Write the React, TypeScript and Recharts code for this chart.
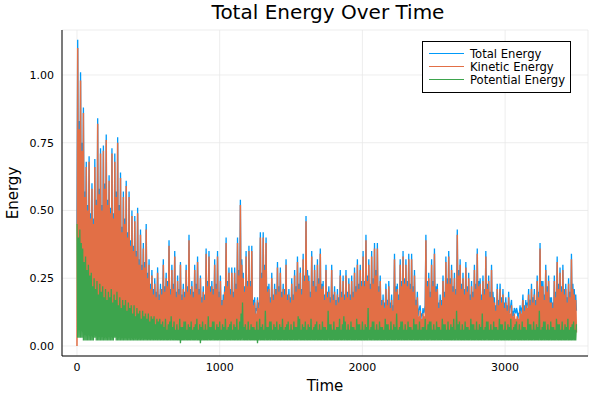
import React from 'react';
import { LineChart, Line, XAxis, YAxis, CartesianGrid } from 'recharts';

// sampling step of the simulation (time units between samples)
const DT = 5;

const TITLE = 'Total Energy Over Time';
const X_LABEL = 'Time';
const Y_LABEL = 'Energy';
const SERIES_NAMES = ['Total Energy', 'Kinetic Energy', 'Potential Energy'];
const SERIES_KEYS = ['total', 'kinetic', 'potential'];
const COLORS = ['#009af9', '#e26f46', '#3da44d'];
const WIDTHS = [1.3, 1.5, 1.3];
const X_TICKS = [0, 1000, 2000, 3000];
const Y_TICKS = [0, 0.25, 0.5, 0.75, 1];

// one row = 100 time units
const kinetic = [
  0.00, 1.10, 0.09, 0.80, 0.08, 0.98, 0.10, 0.72, 0.10, 0.86, 0.09, 0.55, 0.09, 0.66, 0.08, 0.50, 0.07, 0.68, 0.08, 0.47,
  0.09, 0.58, 0.07, 0.45, 0.06, 0.66, 0.07, 0.52, 0.07, 0.82, 0.06, 0.56, 0.08, 0.71, 0.07, 0.50, 0.06, 0.72, 0.07, 0.58,
  0.07, 0.76, 0.08, 0.52, 0.08, 0.61, 0.06, 0.49, 0.06, 0.71, 0.07, 0.47, 0.07, 0.68, 0.08, 0.55, 0.08, 0.75, 0.06, 0.50,
  0.06, 0.62, 0.07, 0.42, 0.07, 0.55, 0.06, 0.45, 0.06, 0.59, 0.05, 0.40, 0.05, 0.55, 0.06, 0.37, 0.06, 0.48, 0.05, 0.35,
  0.05, 0.46, 0.06, 0.33, 0.06, 0.49, 0.05, 0.30, 0.05, 0.41, 0.06, 0.28, 0.06, 0.36, 0.05, 0.29, 0.05, 0.43, 0.06, 0.25,
  0.06, 0.30, 0.05, 0.21, 0.05, 0.26, 0.04, 0.19, 0.04, 0.23, 0.05, 0.18, 0.05, 0.27, 0.04, 0.17, 0.04, 0.21, 0.05, 0.19,
  0.05, 0.30, 0.04, 0.20, 0.04, 0.25, 0.05, 0.22, 0.05, 0.37, 0.04, 0.19, 0.04, 0.28, 0.05, 0.21, 0.05, 0.33, 0.04, 0.18,
  0.04, 0.24, 0.05, 0.19, 0.05, 0.30, 0.04, 0.17, 0.04, 0.21, 0.05, 0.18, 0.05, 0.28, 0.04, 0.20, 0.04, 0.39, 0.05, 0.19,
  0.05, 0.22, 0.04, 0.18, 0.04, 0.28, 0.05, 0.21, 0.05, 0.31, 0.04, 0.19, 0.04, 0.25, 0.05, 0.16, 0.05, 0.20, 0.04, 0.17,
  0.04, 0.34, 0.05, 0.22, 0.05, 0.33, 0.04, 0.20, 0.04, 0.22, 0.05, 0.19, 0.05, 0.30, 0.04, 0.21, 0.04, 0.33, 0.05, 0.18,
  0.05, 0.24, 0.04, 0.15, 0.04, 0.17, 0.05, 0.20, 0.05, 0.38, 0.04, 0.22, 0.04, 0.27, 0.05, 0.19, 0.05, 0.27, 0.04, 0.18,
  0.04, 0.27, 0.05, 0.21, 0.05, 0.38, 0.04, 0.26, 0.04, 0.52, 0.05, 0.30, 0.05, 0.25, 0.04, 0.20, 0.04, 0.33, 0.05, 0.22,
  0.05, 0.35, 0.04, 0.22, 0.04, 0.35, 0.05, 0.15, 0.05, 0.16, 0.04, 0.12, 0.04, 0.17, 0.05, 0.14, 0.05, 0.40, 0.04, 0.25,
  0.05, 0.40, 0.04, 0.28, 0.04, 0.38, 0.05, 0.20, 0.05, 0.21, 0.04, 0.16, 0.04, 0.25, 0.05, 0.17, 0.05, 0.21, 0.04, 0.19,
  0.04, 0.29, 0.05, 0.20, 0.05, 0.27, 0.04, 0.18, 0.04, 0.21, 0.05, 0.19, 0.05, 0.30, 0.04, 0.17, 0.04, 0.19, 0.05, 0.16,
  0.05, 0.23, 0.04, 0.17, 0.04, 0.26, 0.05, 0.20, 0.05, 0.31, 0.04, 0.21, 0.04, 0.27, 0.05, 0.19, 0.05, 0.32, 0.04, 0.24,
  0.04, 0.46, 0.05, 0.26, 0.05, 0.24, 0.04, 0.18, 0.04, 0.33, 0.05, 0.22, 0.05, 0.28, 0.04, 0.20, 0.04, 0.30, 0.05, 0.23,
  0.05, 0.34, 0.04, 0.21, 0.04, 0.22, 0.05, 0.17, 0.05, 0.28, 0.04, 0.18, 0.04, 0.20, 0.05, 0.16, 0.05, 0.28, 0.04, 0.17,
  0.04, 0.20, 0.05, 0.15, 0.05, 0.19, 0.04, 0.16, 0.04, 0.26, 0.05, 0.18, 0.05, 0.24, 0.04, 0.17, 0.04, 0.26, 0.05, 0.18,
  0.05, 0.23, 0.04, 0.17, 0.04, 0.24, 0.05, 0.18, 0.05, 0.27, 0.04, 0.20, 0.04, 0.30, 0.05, 0.21, 0.05, 0.28, 0.04, 0.22,
  0.05, 0.33, 0.04, 0.22, 0.04, 0.39, 0.05, 0.24, 0.05, 0.30, 0.04, 0.21, 0.04, 0.33, 0.05, 0.23, 0.05, 0.36, 0.04, 0.26,
  0.04, 0.36, 0.05, 0.20, 0.05, 0.24, 0.04, 0.15, 0.04, 0.17, 0.05, 0.14, 0.05, 0.21, 0.04, 0.15, 0.04, 0.22, 0.05, 0.14,
  0.05, 0.17, 0.04, 0.13, 0.04, 0.32, 0.05, 0.20, 0.05, 0.21, 0.04, 0.17, 0.04, 0.30, 0.05, 0.22, 0.05, 0.33, 0.04, 0.23,
  0.04, 0.30, 0.05, 0.22, 0.05, 0.32, 0.04, 0.21, 0.04, 0.32, 0.05, 0.20, 0.05, 0.26, 0.04, 0.15, 0.04, 0.18, 0.05, 0.11,
  0.05, 0.13, 0.04, 0.10, 0.04, 0.12, 0.05, 0.11, 0.05, 0.39, 0.04, 0.22, 0.04, 0.25, 0.05, 0.18, 0.05, 0.30, 0.04, 0.22,
  0.04, 0.34, 0.05, 0.20, 0.05, 0.21, 0.04, 0.14, 0.04, 0.17, 0.05, 0.15, 0.05, 0.24, 0.04, 0.18, 0.04, 0.31, 0.05, 0.23,
  0.05, 0.33, 0.04, 0.23, 0.04, 0.28, 0.05, 0.20, 0.05, 0.25, 0.04, 0.19, 0.04, 0.41, 0.05, 0.26, 0.05, 0.30, 0.04, 0.21,
  0.04, 0.25, 0.05, 0.19, 0.05, 0.29, 0.04, 0.20, 0.04, 0.25, 0.05, 0.17, 0.05, 0.22, 0.04, 0.18, 0.04, 0.28, 0.05, 0.21,
  0.05, 0.34, 0.04, 0.22, 0.04, 0.23, 0.05, 0.17, 0.05, 0.24, 0.04, 0.19, 0.04, 0.33, 0.05, 0.21, 0.05, 0.24, 0.04, 0.18,
  0.04, 0.28, 0.05, 0.18, 0.05, 0.16, 0.04, 0.13, 0.04, 0.21, 0.05, 0.15, 0.05, 0.21, 0.04, 0.16, 0.04, 0.19, 0.05, 0.14,
  0.05, 0.16, 0.04, 0.13, 0.04, 0.18, 0.05, 0.12, 0.05, 0.15, 0.04, 0.11, 0.04, 0.12, 0.05, 0.10, 0.05, 0.11, 0.04, 0.10,
  0.04, 0.13, 0.05, 0.12, 0.05, 0.17, 0.04, 0.13, 0.04, 0.15, 0.05, 0.14, 0.05, 0.19, 0.04, 0.15, 0.04, 0.21, 0.05, 0.16,
  0.05, 0.19, 0.04, 0.15, 0.04, 0.24, 0.05, 0.18, 0.05, 0.36, 0.04, 0.22, 0.04, 0.22, 0.05, 0.17, 0.05, 0.28, 0.04, 0.20,
  0.04, 0.24, 0.05, 0.16, 0.05, 0.16, 0.04, 0.14, 0.04, 0.24, 0.05, 0.18, 0.05, 0.31, 0.04, 0.21, 0.04, 0.27, 0.05, 0.20,
  0.05, 0.28, 0.04, 0.19, 0.04, 0.21, 0.05, 0.16, 0.05, 0.23, 0.04, 0.18, 0.04, 0.32, 0.05, 0.21, 0.05, 0.19, 0.04, 0.17,
  0.05,
];

const potential = [
  0.45, 0.03, 0.40, 0.03, 0.43, 0.03, 0.38, 0.03, 0.36, 0.02, 0.31, 0.02, 0.33, 0.02, 0.28, 0.02, 0.30, 0.02, 0.26, 0.02,
  0.27, 0.02, 0.22, 0.02, 0.25, 0.03, 0.21, 0.02, 0.24, 0.02, 0.19, 0.02, 0.23, 0.02, 0.20, 0.02, 0.22, 0.02, 0.18, 0.02,
  0.21, 0.02, 0.17, 0.02, 0.20, 0.02, 0.18, 0.02, 0.21, 0.02, 0.16, 0.02, 0.19, 0.03, 0.17, 0.02, 0.20, 0.02, 0.15, 0.02,
  0.18, 0.02, 0.14, 0.02, 0.17, 0.02, 0.15, 0.02, 0.17, 0.02, 0.13, 0.02, 0.16, 0.02, 0.14, 0.02, 0.15, 0.02, 0.12, 0.02,
  0.15, 0.02, 0.11, 0.02, 0.14, 0.02, 0.12, 0.02, 0.13, 0.02, 0.10, 0.02, 0.13, 0.02, 0.11, 0.02, 0.12, 0.02, 0.10, 0.02,
  0.12, 0.02, 0.09, 0.02, 0.11, 0.02, 0.10, 0.02, 0.11, 0.02, 0.08, 0.02, 0.10, 0.02, 0.09, 0.02, 0.10, 0.02, 0.08, 0.02,
  0.09, 0.02, 0.07, 0.02, 0.10, 0.02, 0.06, 0.02, 0.08, 0.02, 0.09, 0.02, 0.11, 0.02, 0.07, 0.02, 0.09, 0.02, 0.06, 0.02,
  0.08, 0.02, 0.06, 0.02, 0.10, 0.01, 0.07, 0.02, 0.07, 0.02, 0.09, 0.02, 0.09, 0.02, 0.06, 0.02, 0.08, 0.02, 0.07, 0.02,
  0.09, 0.02, 0.06, 0.02, 0.07, 0.02, 0.08, 0.02, 0.10, 0.02, 0.06, 0.02, 0.08, 0.01, 0.07, 0.02, 0.09, 0.02, 0.06, 0.02,
  0.08, 0.02, 0.06, 0.02, 0.11, 0.02, 0.07, 0.02, 0.07, 0.02, 0.09, 0.02, 0.09, 0.02, 0.06, 0.02, 0.08, 0.02, 0.07, 0.02,
  0.09, 0.02, 0.06, 0.02, 0.08, 0.02, 0.07, 0.02, 0.10, 0.02, 0.06, 0.02, 0.07, 0.02, 0.08, 0.02, 0.09, 0.02, 0.06, 0.02,
  0.08, 0.02, 0.07, 0.02, 0.10, 0.02, 0.06, 0.02, 0.09, 0.02, 0.12, 0.02, 0.16, 0.02, 0.07, 0.02, 0.08, 0.02, 0.06, 0.02,
  0.09, 0.02, 0.06, 0.02, 0.08, 0.02, 0.07, 0.02, 0.07, 0.02, 0.06, 0.02, 0.09, 0.01, 0.06, 0.02, 0.10, 0.02, 0.07, 0.02,
  0.08, 0.02, 0.06, 0.02, 0.13, 0.02, 0.07, 0.02, 0.07, 0.02, 0.09, 0.02, 0.09, 0.02, 0.06, 0.02, 0.08, 0.02, 0.07, 0.02,
  0.09, 0.02, 0.06, 0.02, 0.08, 0.02, 0.07, 0.02, 0.10, 0.02, 0.06, 0.02, 0.07, 0.02, 0.08, 0.02, 0.09, 0.02, 0.06, 0.02,
  0.08, 0.02, 0.06, 0.02, 0.09, 0.02, 0.07, 0.02, 0.07, 0.02, 0.11, 0.02, 0.10, 0.02, 0.06, 0.02, 0.08, 0.02, 0.07, 0.02,
  0.09, 0.02, 0.06, 0.02, 0.08, 0.02, 0.07, 0.02, 0.10, 0.02, 0.06, 0.02, 0.07, 0.02, 0.08, 0.02, 0.09, 0.02, 0.06, 0.02,
  0.08, 0.02, 0.06, 0.02, 0.09, 0.02, 0.07, 0.02, 0.07, 0.02, 0.06, 0.02, 0.13, 0.02, 0.08, 0.02, 0.08, 0.02, 0.06, 0.02,
  0.09, 0.02, 0.06, 0.02, 0.07, 0.02, 0.07, 0.02, 0.10, 0.02, 0.06, 0.02, 0.08, 0.02, 0.11, 0.02, 0.09, 0.02, 0.06, 0.02,
  0.08, 0.02, 0.06, 0.02, 0.09, 0.02, 0.07, 0.02, 0.07, 0.02, 0.06, 0.02, 0.10, 0.02, 0.08, 0.02, 0.08, 0.02, 0.06, 0.02,
  0.09, 0.02, 0.06, 0.02, 0.08, 0.02, 0.07, 0.02, 0.14, 0.02, 0.06, 0.02, 0.07, 0.02, 0.09, 0.02, 0.09, 0.02, 0.06, 0.02,
  0.08, 0.02, 0.06, 0.02, 0.09, 0.02, 0.07, 0.02, 0.07, 0.02, 0.06, 0.02, 0.10, 0.02, 0.08, 0.02, 0.08, 0.02, 0.06, 0.02,
  0.09, 0.02, 0.06, 0.02, 0.08, 0.02, 0.07, 0.02, 0.12, 0.02, 0.06, 0.02, 0.07, 0.02, 0.09, 0.02, 0.09, 0.02, 0.06, 0.02,
  0.08, 0.02, 0.06, 0.02, 0.09, 0.02, 0.07, 0.02, 0.07, 0.02, 0.06, 0.02, 0.10, 0.02, 0.08, 0.02, 0.08, 0.02, 0.06, 0.02,
  0.09, 0.02, 0.06, 0.02, 0.07, 0.02, 0.07, 0.02, 0.10, 0.02, 0.06, 0.02, 0.08, 0.02, 0.09, 0.02, 0.09, 0.02, 0.06, 0.02,
  0.08, 0.02, 0.06, 0.02, 0.09, 0.02, 0.07, 0.02, 0.07, 0.02, 0.06, 0.02, 0.10, 0.02, 0.08, 0.02, 0.08, 0.02, 0.06, 0.02,
  0.09, 0.02, 0.06, 0.02, 0.08, 0.02, 0.07, 0.02, 0.10, 0.02, 0.06, 0.02, 0.13, 0.02, 0.08, 0.02, 0.09, 0.02, 0.06, 0.02,
  0.08, 0.02, 0.06, 0.02, 0.09, 0.02, 0.07, 0.02, 0.07, 0.02, 0.06, 0.02, 0.10, 0.02, 0.08, 0.02, 0.08, 0.02, 0.06, 0.02,
  0.09, 0.02, 0.06, 0.02, 0.08, 0.02, 0.07, 0.02, 0.12, 0.02, 0.06, 0.02, 0.07, 0.02, 0.09, 0.02, 0.09, 0.02, 0.06, 0.02,
  0.08, 0.02, 0.06, 0.02, 0.09, 0.02, 0.07, 0.02, 0.07, 0.02, 0.06, 0.02, 0.10, 0.02, 0.08, 0.02, 0.08, 0.02, 0.06, 0.02,
  0.09, 0.02, 0.06, 0.02, 0.08, 0.02, 0.07, 0.02, 0.10, 0.02, 0.06, 0.02, 0.07, 0.02, 0.08, 0.02, 0.09, 0.02, 0.06, 0.02,
  0.08, 0.02, 0.06, 0.02, 0.09, 0.02, 0.07, 0.02, 0.07, 0.02, 0.06, 0.02, 0.10, 0.02, 0.08, 0.02, 0.08, 0.02, 0.06, 0.02,
  0.09, 0.02, 0.06, 0.02, 0.08, 0.02, 0.07, 0.02, 0.13, 0.02, 0.06, 0.02, 0.07, 0.02, 0.09, 0.02, 0.09, 0.02, 0.06, 0.02,
  0.08, 0.02, 0.06, 0.02, 0.09, 0.02, 0.07, 0.02, 0.07, 0.02, 0.06, 0.02, 0.10, 0.02, 0.08, 0.02, 0.08, 0.02, 0.06, 0.02,
  0.09, 0.02, 0.06, 0.02, 0.08, 0.02, 0.07, 0.02, 0.10, 0.02, 0.06, 0.02, 0.07, 0.02, 0.08, 0.02, 0.09, 0.02, 0.06, 0.02,
  0.08,
];

const total = [
  0.45, 1.13, 0.49, 0.83, 0.51, 1.01, 0.48, 0.75, 0.46, 0.88, 0.40, 0.57, 0.42, 0.68, 0.36, 0.52, 0.37, 0.70, 0.34, 0.49,
  0.36, 0.60, 0.29, 0.47, 0.31, 0.69, 0.28, 0.54, 0.31, 0.84, 0.25, 0.58, 0.31, 0.73, 0.27, 0.52, 0.28, 0.74, 0.25, 0.60,
  0.28, 0.78, 0.25, 0.54, 0.28, 0.63, 0.24, 0.51, 0.27, 0.73, 0.23, 0.49, 0.26, 0.71, 0.25, 0.57, 0.28, 0.77, 0.21, 0.52,
  0.24, 0.64, 0.21, 0.44, 0.24, 0.57, 0.21, 0.47, 0.23, 0.61, 0.18, 0.42, 0.21, 0.57, 0.20, 0.39, 0.21, 0.50, 0.17, 0.37,
  0.20, 0.48, 0.17, 0.35, 0.20, 0.51, 0.17, 0.32, 0.18, 0.43, 0.16, 0.30, 0.19, 0.38, 0.16, 0.31, 0.17, 0.45, 0.16, 0.27,
  0.18, 0.32, 0.14, 0.23, 0.16, 0.28, 0.14, 0.21, 0.15, 0.25, 0.13, 0.20, 0.15, 0.29, 0.13, 0.19, 0.14, 0.23, 0.13, 0.21,
  0.14, 0.32, 0.11, 0.22, 0.14, 0.27, 0.11, 0.24, 0.13, 0.39, 0.13, 0.21, 0.15, 0.30, 0.12, 0.23, 0.14, 0.35, 0.10, 0.20,
  0.12, 0.26, 0.11, 0.21, 0.15, 0.31, 0.11, 0.19, 0.11, 0.23, 0.14, 0.20, 0.14, 0.30, 0.10, 0.22, 0.12, 0.41, 0.12, 0.21,
  0.14, 0.24, 0.10, 0.20, 0.11, 0.30, 0.13, 0.23, 0.15, 0.33, 0.10, 0.21, 0.12, 0.26, 0.12, 0.18, 0.14, 0.22, 0.10, 0.19,
  0.12, 0.36, 0.11, 0.24, 0.16, 0.35, 0.11, 0.22, 0.11, 0.24, 0.14, 0.21, 0.14, 0.32, 0.10, 0.23, 0.12, 0.35, 0.12, 0.20,
  0.14, 0.26, 0.10, 0.17, 0.12, 0.19, 0.12, 0.22, 0.15, 0.40, 0.10, 0.24, 0.11, 0.29, 0.13, 0.21, 0.14, 0.29, 0.10, 0.20,
  0.12, 0.29, 0.12, 0.23, 0.15, 0.40, 0.10, 0.28, 0.13, 0.54, 0.17, 0.32, 0.21, 0.27, 0.11, 0.22, 0.12, 0.35, 0.11, 0.24,
  0.14, 0.37, 0.10, 0.24, 0.12, 0.37, 0.12, 0.17, 0.12, 0.18, 0.10, 0.14, 0.13, 0.18, 0.11, 0.16, 0.15, 0.42, 0.11, 0.27,
  0.13, 0.42, 0.10, 0.30, 0.17, 0.40, 0.12, 0.22, 0.12, 0.23, 0.13, 0.18, 0.13, 0.27, 0.11, 0.19, 0.13, 0.23, 0.11, 0.21,
  0.13, 0.31, 0.11, 0.22, 0.13, 0.29, 0.11, 0.20, 0.14, 0.23, 0.11, 0.21, 0.12, 0.32, 0.12, 0.19, 0.13, 0.21, 0.11, 0.18,
  0.13, 0.25, 0.10, 0.19, 0.13, 0.28, 0.12, 0.22, 0.12, 0.33, 0.15, 0.23, 0.14, 0.29, 0.11, 0.21, 0.13, 0.34, 0.11, 0.26,
  0.13, 0.48, 0.11, 0.28, 0.13, 0.26, 0.11, 0.20, 0.14, 0.35, 0.11, 0.24, 0.12, 0.30, 0.12, 0.22, 0.13, 0.32, 0.11, 0.25,
  0.13, 0.36, 0.10, 0.23, 0.13, 0.24, 0.12, 0.19, 0.12, 0.30, 0.10, 0.20, 0.17, 0.22, 0.13, 0.18, 0.13, 0.30, 0.10, 0.19,
  0.13, 0.22, 0.11, 0.17, 0.12, 0.21, 0.11, 0.18, 0.14, 0.28, 0.11, 0.20, 0.13, 0.26, 0.15, 0.19, 0.13, 0.28, 0.11, 0.20,
  0.13, 0.25, 0.10, 0.19, 0.13, 0.26, 0.12, 0.20, 0.12, 0.29, 0.10, 0.22, 0.14, 0.32, 0.13, 0.23, 0.13, 0.30, 0.10, 0.24,
  0.14, 0.35, 0.10, 0.24, 0.12, 0.41, 0.12, 0.26, 0.19, 0.32, 0.10, 0.23, 0.11, 0.35, 0.14, 0.25, 0.14, 0.38, 0.10, 0.28,
  0.12, 0.38, 0.11, 0.22, 0.14, 0.26, 0.11, 0.17, 0.11, 0.19, 0.11, 0.16, 0.15, 0.23, 0.12, 0.17, 0.12, 0.24, 0.11, 0.16,
  0.14, 0.19, 0.10, 0.15, 0.12, 0.34, 0.12, 0.22, 0.17, 0.23, 0.10, 0.19, 0.11, 0.32, 0.14, 0.24, 0.14, 0.35, 0.10, 0.25,
  0.12, 0.32, 0.11, 0.24, 0.14, 0.34, 0.11, 0.23, 0.11, 0.34, 0.11, 0.22, 0.15, 0.28, 0.12, 0.17, 0.12, 0.20, 0.11, 0.13,
  0.14, 0.15, 0.10, 0.12, 0.11, 0.14, 0.12, 0.13, 0.15, 0.41, 0.10, 0.24, 0.12, 0.27, 0.14, 0.20, 0.14, 0.32, 0.10, 0.24,
  0.12, 0.36, 0.11, 0.22, 0.14, 0.23, 0.11, 0.16, 0.11, 0.19, 0.11, 0.17, 0.15, 0.26, 0.12, 0.20, 0.12, 0.33, 0.11, 0.25,
  0.14, 0.35, 0.10, 0.25, 0.12, 0.30, 0.12, 0.22, 0.15, 0.27, 0.10, 0.21, 0.17, 0.43, 0.13, 0.28, 0.14, 0.32, 0.10, 0.23,
  0.12, 0.27, 0.11, 0.21, 0.14, 0.31, 0.11, 0.22, 0.11, 0.27, 0.11, 0.19, 0.15, 0.24, 0.12, 0.20, 0.12, 0.30, 0.11, 0.23,
  0.14, 0.36, 0.10, 0.24, 0.12, 0.25, 0.12, 0.19, 0.17, 0.26, 0.10, 0.21, 0.11, 0.35, 0.14, 0.23, 0.14, 0.26, 0.10, 0.20,
  0.12, 0.30, 0.11, 0.20, 0.14, 0.18, 0.11, 0.15, 0.11, 0.23, 0.11, 0.17, 0.15, 0.23, 0.12, 0.18, 0.12, 0.21, 0.11, 0.16,
  0.14, 0.18, 0.10, 0.15, 0.12, 0.20, 0.12, 0.14, 0.15, 0.17, 0.10, 0.13, 0.11, 0.14, 0.13, 0.12, 0.14, 0.13, 0.10, 0.12,
  0.12, 0.15, 0.11, 0.14, 0.14, 0.19, 0.11, 0.15, 0.11, 0.17, 0.11, 0.16, 0.15, 0.21, 0.12, 0.17, 0.12, 0.23, 0.11, 0.18,
  0.14, 0.21, 0.10, 0.17, 0.12, 0.26, 0.12, 0.20, 0.18, 0.38, 0.10, 0.24, 0.11, 0.24, 0.14, 0.19, 0.14, 0.30, 0.10, 0.22,
  0.12, 0.26, 0.11, 0.18, 0.14, 0.18, 0.11, 0.16, 0.11, 0.26, 0.11, 0.20, 0.15, 0.33, 0.12, 0.23, 0.12, 0.29, 0.11, 0.22,
  0.14, 0.30, 0.10, 0.21, 0.12, 0.23, 0.12, 0.18, 0.15, 0.25, 0.10, 0.20, 0.11, 0.34, 0.13, 0.23, 0.14, 0.21, 0.10, 0.19,
  0.13,
];

const data = kinetic.map((k, i) => ({
  t: i * DT,
  total: total[i],
  kinetic: k,
  potential: potential[i],
}));

const FONT = '"DejaVu Sans", sans-serif';

function LegendBox() {
  return (
    <div
      style={{
        position: 'absolute',
        left: 422,
        top: 41,
        width: 147,
        height: 45,
        border: '1px solid #000',
        background: '#fff',
        fontFamily: FONT,
        fontSize: 11.6,
        paddingTop: 5,
        boxSizing: 'content-box',
      }}
    >
      {SERIES_NAMES.map((name, i) => (
        <div key={name} style={{ display: 'flex', alignItems: 'center', height: 13 }}>
          <div style={{ width: 35, height: 1, background: COLORS[i], marginLeft: 6, marginRight: 6 }} />
          <span>{name}</span>
        </div>
      ))}
    </div>
  );
}

export default function App() {
  const tickStyle = { fontSize: 11, fill: '#000', fontFamily: FONT };
  return (
    <div style={{ position: 'absolute', left: 0, top: 0, width: 600, height: 400, background: '#fff' }}>
      <LineChart width={600} height={400} data={data} margin={{ top: 30, right: 12, bottom: 0, left: 0 }}>
        <CartesianGrid stroke="#e8e8e8" strokeWidth={0.8} />
        <XAxis
          type="number"
          dataKey="t"
          domain={[-105, 3581]}
          ticks={X_TICKS}
          allowDataOverflow
          height={44}
          tick={tickStyle}
          tickLine={false}
          tickSize={4}
          tickMargin={3}
          axisLine={{ stroke: '#000' }}
        />
        <YAxis
          type="number"
          domain={[-0.037, 1.166]}
          ticks={Y_TICKS}
          allowDataOverflow
          width={62}
          tick={tickStyle}
          tickLine={false}
          tickSize={4}
          tickMargin={4}
          tickFormatter={(v: number) => v.toFixed(2)}
          axisLine={{ stroke: '#000' }}
        />
        {SERIES_KEYS.map((key, i) => (
          <Line
            key={key}
            type="linear"
            dataKey={key}
            name={SERIES_NAMES[i]}
            stroke={COLORS[i]}
            strokeWidth={WIDTHS[i]}
            strokeLinejoin="miter"
            dot={false}
            isAnimationActive={false}
          />
        ))}
      </LineChart>
      <div
        style={{
          position: 'absolute',
          top: 0,
          left: 68,
          width: 520,
          textAlign: 'center',
          fontFamily: FONT,
          fontSize: 20,
          lineHeight: '25px',
        }}
      >
        {TITLE}
      </div>
      <div
        style={{
          position: 'absolute',
          top: 376,
          left: 62,
          width: 526,
          textAlign: 'center',
          fontFamily: FONT,
          fontSize: 15,
          lineHeight: '20px',
        }}
      >
        {X_LABEL}
      </div>
      <div
        style={{
          position: 'absolute',
          left: 13,
          top: 193,
          transform: 'translate(-50%, -50%) rotate(-90deg)',
          fontFamily: FONT,
          fontSize: 15,
          lineHeight: '20px',
          whiteSpace: 'nowrap',
        }}
      >
        {Y_LABEL}
      </div>
      <LegendBox />
    </div>
  );
}
